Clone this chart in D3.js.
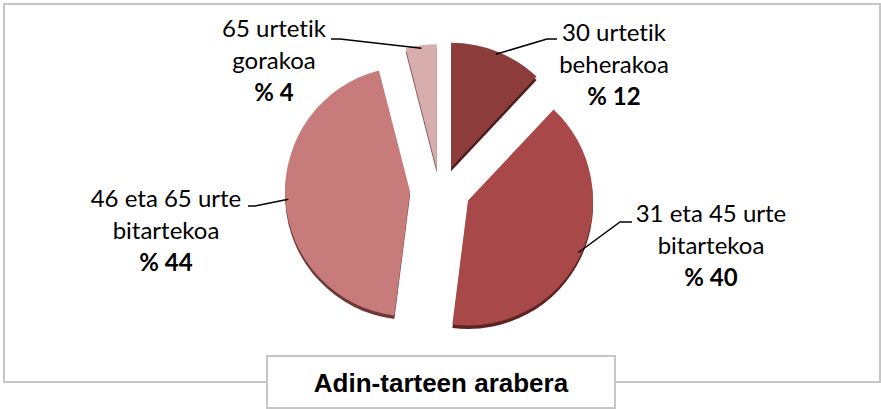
<!DOCTYPE html>
<html>
<head>
<meta charset="utf-8">
<script src="https://cdn.jsdelivr.net/npm/d3@7/dist/d3.min.js"></script>
<style>
  body { margin: 0; background: #fff; }
  svg { display: block; }
  .lbl { font-family: Lato, "Open Sans", sans-serif; font-size: 24px; fill: #000; font-variant-ligatures: none; font-feature-settings: "liga" 0; }
  .pct { font-weight: bold; }
  .title { font-family: "Liberation Sans", Arial, sans-serif; font-weight: bold; font-size: 26px; fill: #000; }
</style>
</head>
<body>
<svg id="chart" width="881" height="409"></svg>
<script>
// data
var categories = ["30 urtetik beherakoa", "31 eta 45 urte bitartekoa", "46 eta 65 urte bitartekoa", "65 urtetik gorakoa"];
var labelLines = [["30 urtetik", "beherakoa"], ["31 eta 45 urte", "bitartekoa"], ["46 eta 65 urte", "bitartekoa"], ["65 urtetik", "gorakoa"]];
var shares = [12, 40, 44, 4];
var title = "Adin-tarteen arabera";

// look
var colors = ["#8d3c3c", "#a94848", "#c77b7b", "#d8adad"];
var rims = ["#4e1c1c", "#5e2424", "#6e3838", "#7a5454"];
var explode = [30, 31, 30, 26];
var tilt = 0.8; // vertical squash of the explode offsets
var labelAt = [[614, 41], [711, 222], [166, 207], [274, 37]];
var elbow = [[547, 39], [620, 222], [255, 206], [340, 39]];
var lineEnd = [[557, 39], [632, 222], [248, 206], [331, 39]];

var svg = d3.select("#chart"),
    cx = 440, cy = 190, radius = 125, lineH = 32;

svg.append("rect")
    .attr("x", 4).attr("y", 4)
    .attr("width", 876).attr("height", 378)
    .attr("fill", "#fff")
    .attr("stroke", "#c6c6c6")
    .attr("stroke-width", 2);

var pie = d3.pie().sort(null).value(function(d) { return d; });
var arc = d3.arc().innerRadius(0).outerRadius(radius);

var slices = pie(shares).map(function(d, i) {
  var mid = (d.startAngle + d.endAngle) / 2;
  d.i = i;
  d.mid = mid;
  d.ax = cx + explode[i] * Math.sin(mid);
  d.ay = cy - explode[i] * tilt * Math.cos(mid);
  return d;
});

var g = svg.append("g");

// thickness of the 3d pie
g.selectAll(".rim")
  .data(slices)
  .enter().append("path")
    .attr("class", "rim")
    .attr("transform", function(d) { return "translate(" + d.ax + "," + (d.ay + 3.5) + ")"; })
    .attr("d", arc)
    .attr("fill", function(d) { return rims[d.i]; });

g.selectAll(".slice")
  .data(slices)
  .enter().append("path")
    .attr("class", "slice")
    .attr("transform", function(d) { return "translate(" + d.ax + "," + d.ay + ")"; })
    .attr("d", arc)
    .attr("fill", function(d) { return colors[d.i]; });

// leader lines
svg.selectAll(".leader")
  .data(slices)
  .enter().append("polyline")
    .attr("class", "leader")
    .attr("points", function(d) {
      var r = radius - 3;
      var sx = d.ax + r * Math.sin(d.mid), sy = d.ay - r * Math.cos(d.mid);
      return [[sx, sy], elbow[d.i], lineEnd[d.i]].map(function(p) { return p.join(","); }).join(" ");
    })
    .attr("fill", "none")
    .attr("stroke", "#000")
    .attr("stroke-width", 1.5);

// labels
var lbl = svg.selectAll(".lbl")
  .data(slices)
  .enter().append("text")
    .attr("class", "lbl")
    .attr("text-anchor", "middle");

lbl.each(function(d) {
  var t = d3.select(this), x = labelAt[d.i][0], y = labelAt[d.i][1];
  labelLines[d.i].forEach(function(s, k) {
    t.append("tspan").attr("x", x).attr("y", y + k * lineH).text(s);
  });
  t.append("tspan").attr("class", "pct").attr("x", x).attr("y", y + 2 * lineH)
    .text("% " + shares[d.i]);
});

// title box
svg.append("rect")
    .attr("x", 267).attr("y", 356)
    .attr("width", 348).attr("height", 52)
    .attr("fill", "#fff")
    .attr("stroke", "#c6c6c6")
    .attr("stroke-width", 2);

svg.append("text")
    .attr("class", "title")
    .attr("x", 441).attr("y", 392)
    .attr("text-anchor", "middle")
    .text(title);
</script>
</body>
</html>
